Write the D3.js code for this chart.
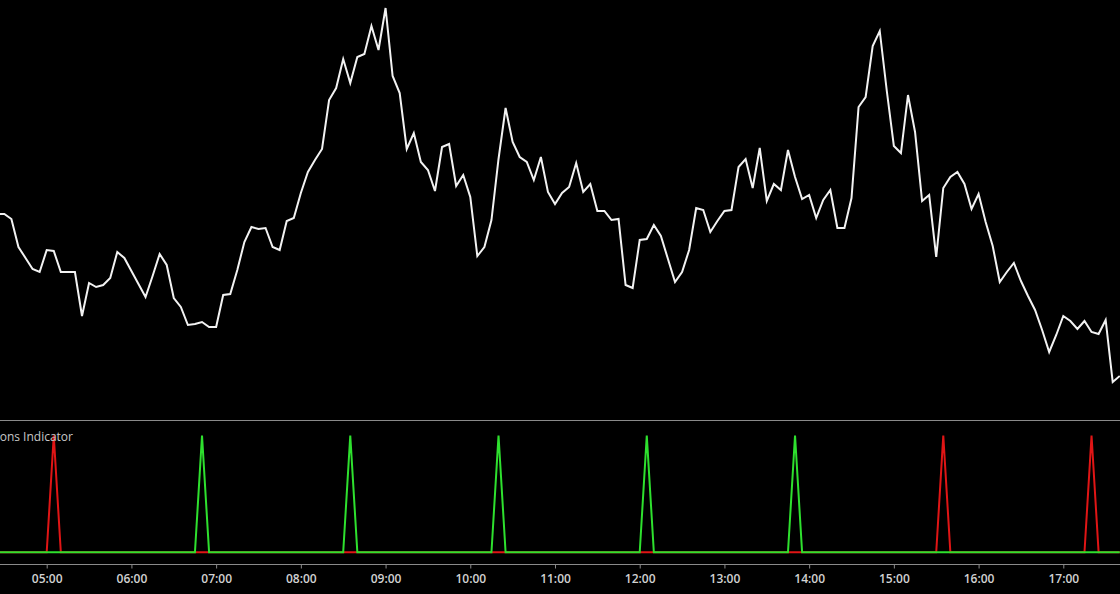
<!DOCTYPE html>
<html>
<head>
<meta charset="utf-8">
<script src="https://cdn.jsdelivr.net/npm/d3@7"></script>
<style>
  html, body { margin: 0; padding: 0; background: #000; }
  svg { display: block; }
</style>
</head>
<body>
<svg id="chart" width="1120" height="594"></svg>
<script>
// ---- data ----
const startTime = "04:25";          // first sample
const stepMinutes = 5;              // sampling interval
const prices = [
  206,206,201,173,162,151,148,170,169,148,148,148,104,137,133,135,142,168,162,149,
  136,123,144,166,155,122,113,95,96,98,93,93,125,126,150,178,193,191,192,173,
  170,199,202,227,248,260,271,320,332,361,337,363,366,394,370,412,344,327,271,287,
  258,250,229,273,276,234,245,223,164,173,200,261,312,278,263,258,240,263,228,216,
  227,233,257,228,236,209,209,200,201,135,132,180,181,195,184,161,138,148,170,212,
  210,188,199,209,210,253,261,232,272,219,236,230,270,243,221,225,202,220,230,192,
  192,222,313,323,374,389,329,274,267,325,288,219,225,163,232,243,248,236,211,226,
  198,174,138,148,157,139,124,110,90,68,85,104,99,91,99,88,86,100,38,44
];
const buySignals  = ["06:50","08:35","10:20","12:05","13:50"];
const sellSignals = ["05:05","15:35","17:20"];
const tickLabels = ["05:00","06:00","07:00","08:00","09:00","10:00","11:00","12:00","13:00","14:00","15:00","16:00","17:00"];
const indicatorTitle = "Positions Indicator";

// ---- build ----
const parseT = s => { const [h,m] = s.split(":").map(Number); return new Date(2024,0,1,h,m); };
const t0 = parseT(startTime);
const series = prices.map((v,i) => ({ t: new Date(t0.getTime() + i*stepMinutes*60000), v }));
const buySet = new Set(buySignals.map(s => parseT(s).getTime()));
const sellSet = new Set(sellSignals.map(s => parseT(s).getTime()));
const buySeries = series.map(d => ({ t: d.t, v: buySet.has(d.t.getTime()) ? 1 : 0 }));
const sellSeries = series.map(d => ({ t: d.t, v: sellSet.has(d.t.getTime()) ? 1 : 0 }));

const W = 1120, H = 594;
const svg = d3.select("#chart");
svg.append("rect").attr("width", W).attr("height", H).attr("fill", "#000");
svg.append("defs").append("clipPath").attr("id","clip")
  .append("rect").attr("x",0).attr("y",0).attr("width",W).attr("height",H);

const x = d3.scaleTime()
  .domain([parseT("05:00"), parseT("17:00")])
  .range([46.7, 1063.3]);

const yMain = d3.scaleLinear().domain([0, 420]).range([420, 0]);
const yInd = d3.scaleLinear().domain([0, 1]).range([552.3, 435.5]);

const g = svg.append("g").attr("clip-path","url(#clip)");

// main price line
g.append("path")
  .datum(series)
  .attr("fill","none")
  .attr("stroke","#f2f2f2")
  .attr("stroke-width",2)
  .attr("stroke-linejoin","miter")
  .attr("d", d3.line().x(d => x(d.t)).y(d => yMain(d.v)));

// separator
svg.append("line").attr("x1",0).attr("x2",W).attr("y1",420.5).attr("y2",420.5)
  .attr("stroke","#8a8a8a").attr("stroke-width",1);

// indicator title
svg.append("text").attr("x",73).attr("y",441)
  .attr("text-anchor","end")
  .attr("font-family","'Open Sans', sans-serif").attr("font-size",12)
  .attr("fill","#c8c8c8").text(indicatorTitle);

const indLine = d3.line().x(d => x(d.t)).y(d => yInd(d.v));
g.append("path").datum(sellSeries)
  .attr("fill","none").attr("stroke","#e01515").attr("stroke-width",2)
  .attr("d", indLine);
g.append("path").datum(buySeries)
  .attr("fill","none").attr("stroke","#2ee02e").attr("stroke-width",2)
  .attr("d", indLine);

// x axis
const axis = d3.axisBottom(x)
  .tickValues(tickLabels.map(parseT))
  .tickFormat((d,i) => tickLabels[i])
  .tickSize(4)
  .tickSizeOuter(0);
const ax = svg.append("g").attr("transform","translate(0,564.5)").call(axis);
ax.select(".domain").attr("stroke","#8a8a8a").attr("d","M0,0H1120");
ax.selectAll(".tick line").attr("stroke","#8a8a8a");
ax.selectAll(".tick text")
  .attr("fill","#d2d2d2")
  .attr("font-family","'Open Sans', sans-serif")
  .attr("font-size",12).attr("font-weight",600)
  .attr("dy","0.71em").attr("y",10);
</script>
</body>
</html>
